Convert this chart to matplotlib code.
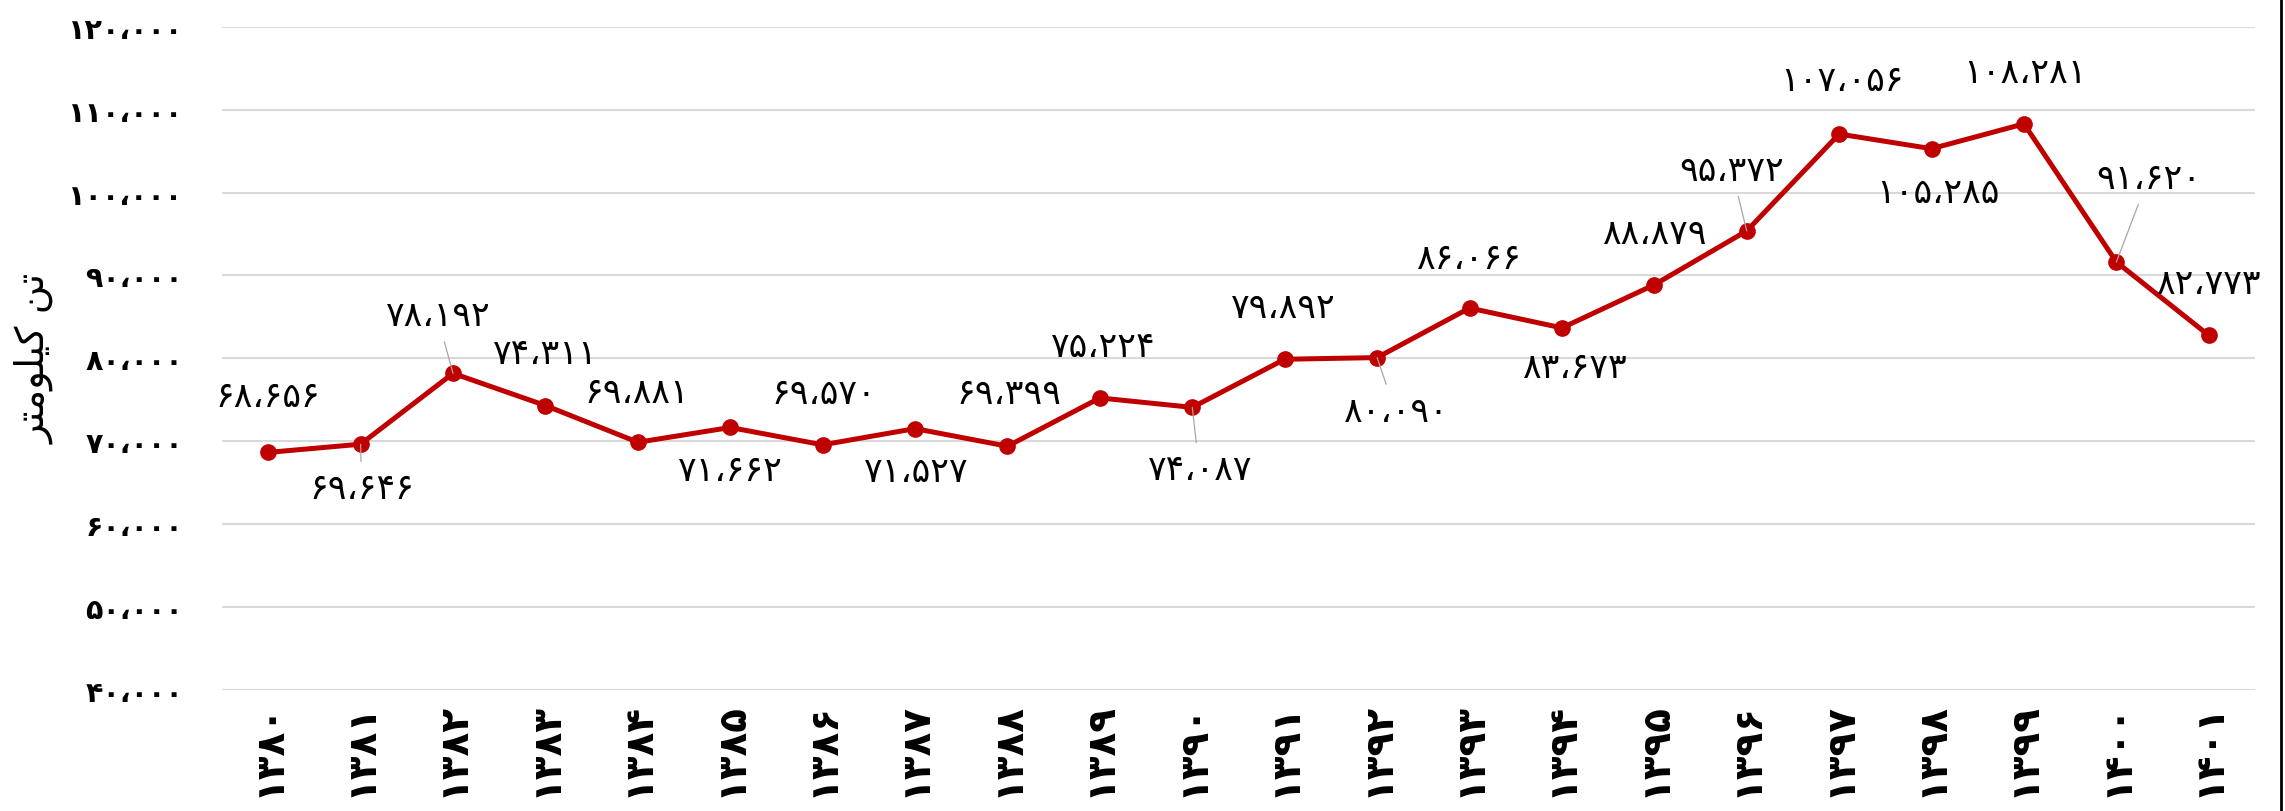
import matplotlib
matplotlib.use("Agg")
import matplotlib.pyplot as plt
from matplotlib.lines import Line2D
from matplotlib.ticker import FuncFormatter

years = [1380, 1381, 1382, 1383, 1384, 1385, 1386, 1387, 1388, 1389, 1390,
         1391, 1392, 1393, 1394, 1395, 1396, 1397, 1398, 1399, 1400, 1401]
values = [68656, 69646, 78192, 74311, 69881, 71662, 69570, 71527, 69399, 75224, 74087,
          79892, 80090, 86066, 83673, 88879, 95372, 107056, 105285, 108281, 91620, 82773]
y_ticks = [40000, 50000, 60000, 70000, 80000, 90000, 100000, 110000, 120000]
ylabel_text = "تن کیلومتر"

# label offsets from each point, in pixels (x right, y down) as placed in the original
label_offsets = [(0, -56), (1, 44), (-16, -58), (-1, -53), (-1, -50), (-1, 43), (1, -52),
                 (0, 42), (1, -53), (2, -52), (7, 62), (-2, -52), (18, 53), (-1, -50),
                 (12, 39), (0, -52), (-15, -61), (3, -54), (6, 43), (1, -52), (32, -84),
                 (0, -52)]
leader_idx = {1, 2, 10, 12, 16, 20}

FA_DIGITS = str.maketrans("0123456789,", "۰۱۲۳۴۵۶۷۸۹،")


def fa(n, sep=True):
    s = f"{n:,}" if sep else str(n)
    return s.translate(FA_DIGITS)


# minimal arabic shaping for the letters used in the axis title (no shaping engine in mpl)
FORMS = {
    "ت": ("\uFE95", "\uFE96", "\uFE97", "\uFE98"),
    "ن": ("\uFEE5", "\uFEE6", "\uFEE7", "\uFEE8"),
    "ک": ("\uFB8E", "\uFB8F", "\uFB90", "\uFB91"),
    "ی": ("\uFBFC", "\uFBFD", "\uFBFE", "\uFBFF"),
    "ل": ("\uFEDD", "\uFEDE", "\uFEDF", "\uFEE0"),
    "م": ("\uFEE1", "\uFEE2", "\uFEE3", "\uFEE4"),
    "و": ("\uFEED", "\uFEEE", None, None),
    "ر": ("\uFEAD", "\uFEAE", None, None),
}


def shape(text):
    out = []
    for i, c in enumerate(text):
        if c not in FORMS:
            out.append(c)
            continue
        prev = text[i - 1] if i > 0 else ""
        nxt = text[i + 1] if i + 1 < len(text) else ""
        jp = prev in FORMS and FORMS[prev][2] is not None
        jn = FORMS[c][2] is not None and nxt in FORMS
        f = FORMS[c]
        out.append(f[3] if jp and jn else f[1] if jp else f[2] if jn else f[0])
    return "".join(out)[::-1]


plt.rcParams["font.family"] = ["DejaVu Sans"]

fig = plt.figure(figsize=(22.85, 8.12), dpi=100)
ax = fig.add_axes([222 / 2285, 1 - 691 / 812, 2033 / 2285, 663.3 / 812])

x = list(range(len(years)))
ax.plot(x, values, color="#C00000", lw=3.6, marker="o", ms=11, zorder=3)

for i, v in enumerate(values):
    dx, dy = label_offsets[i]
    kw = {}
    if i in leader_idx:
        kw["arrowprops"] = dict(arrowstyle="-", color="#A6A6A6", lw=0.9, shrinkA=5, shrinkB=0)
    ax.annotate(fa(v), xy=(i, v), xytext=(dx * 0.72, -dy * 0.72), textcoords="offset points",
                ha="center", va="center", fontsize=25, color="black", zorder=4, **kw)

ax.set_xlim(-0.5, len(years) - 0.5)
ax.set_ylim(40000, 120000)
ax.set_yticks(y_ticks)
ax.yaxis.set_major_formatter(FuncFormatter(lambda v, p: fa(int(v))))
ax.set_xticks(x)
ax.set_xticklabels([fa(y, sep=False) for y in years], rotation=90, fontsize=28,
                   fontweight="bold", va="top")
for lab in ax.get_yticklabels():
    lab.set_fontsize(20.5)
    lab.set_fontweight("bold")
ax.tick_params(axis="both", length=0)
ax.tick_params(axis="y", pad=28)
ax.tick_params(axis="x", pad=8)
ax.grid(axis="y", color="#D9D9D9", lw=1.5)
ax.set_axisbelow(True)
for s in ax.spines.values():
    s.set_visible(False)

fig.text(35 / 2285, 1 - 359 / 812, shape(ylabel_text), rotation=90, fontsize=28,
         ha="center", va="center")

fig.add_artist(Line2D([2281 / 2285] * 2, [0, 1], color="black", lw=2, transform=fig.transFigure))

fig.savefig("out.png", dpi=100)
